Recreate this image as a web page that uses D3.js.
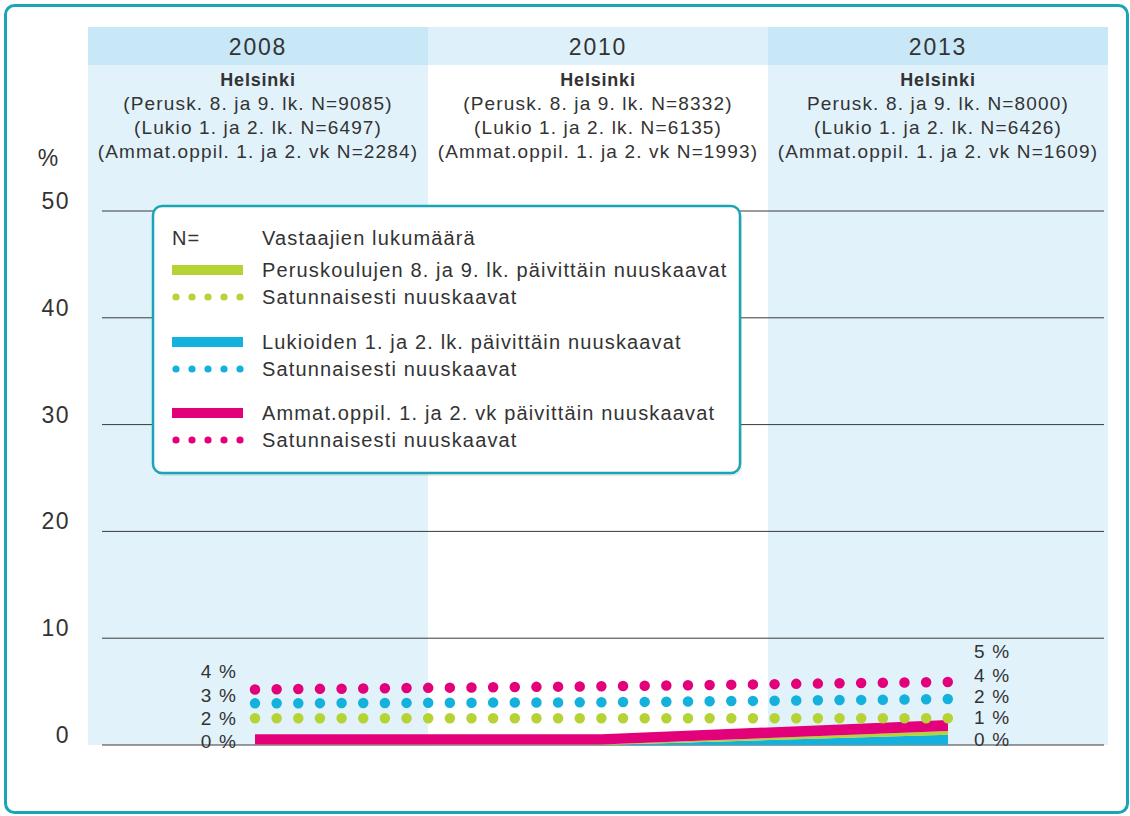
<!DOCTYPE html>
<html><head><meta charset="utf-8">
<script src="https://cdn.jsdelivr.net/npm/d3@7/dist/d3.min.js"></script>
<style>
body{margin:0;background:#fff;}
svg text{font-family:"Liberation Sans",Arial,Helvetica,sans-serif;fill:#333;}
</style></head>
<body><svg id="c" width="1130" height="816"></svg>
<script>
const years = [2008, 2010, 2013];
const headerTitle = ["Helsinki", "Helsinki", "Helsinki"];
const headerLine1 = ["(Perusk. 8. ja 9. lk. N=9085)", "(Perusk. 8. ja 9. lk. N=8332)", "Perusk. 8. ja 9. lk. N=8000)"];
const headerLine2 = ["(Lukio 1. ja 2. lk. N=6497)", "(Lukio 1. ja 2. lk. N=6135)", "(Lukio 1. ja 2. lk. N=6426)"];
const headerLine3 = ["(Ammat.oppil. 1. ja 2. vk N=2284)", "(Ammat.oppil. 1. ja 2. vk N=1993)", "(Ammat.oppil. 1. ja 2. vk N=1609)"];
const yTicks = [0, 10, 20, 30, 40, 50];

// daily users (stacked areas)
const dailyPerusk = [0.05, 0.05, 0.35];
const dailyLukio = [0.0, 0.0, 0.95];
const dailyAmmat = [0.95, 0.95, 1.05];
// occasional users (dotted lines)
const occPerusk = [2.5, 2.5, 2.5];
const occLukio = [3.9, 4.0, 4.3];
const occAmmat = [5.2, 5.5, 5.9];

const leftLabels = ["4 %", "3 %", "2 %", "0 %"];
const rightLabels = ["5 %", "4 %", "2 %", "1 %", "0 %"];

const legendNote = ["N=", "Vastaajien lukumäärä"];
const legendItems = [
  {text: "Peruskoulujen 8. ja 9. lk. päivittäin nuuskaavat", type: "bar", color: "#b5d335"},
  {text: "Satunnaisesti nuuskaavat", type: "dots", color: "#b5d335"},
  {text: "Lukioiden 1. ja 2. lk. päivittäin nuuskaavat", type: "bar", color: "#14b1dd"},
  {text: "Satunnaisesti nuuskaavat", type: "dots", color: "#14b1dd"},
  {text: "Ammat.oppil. 1. ja 2. vk päivittäin nuuskaavat", type: "bar", color: "#e3007b"},
  {text: "Satunnaisesti nuuskaavat", type: "dots", color: "#e3007b"}
];

const C = {green: "#b5d335", blue: "#14b1dd", magenta: "#e3007b"};

const svg = d3.select("#c");
// outer frame
svg.append("rect").attr("x", 5.5).attr("y", 5.5).attr("width", 1122).attr("height", 807)
  .attr("rx", 9).attr("fill", "#fff").attr("stroke", "#1aa5b7").attr("stroke-width", 3);

const col = d3.scaleBand().domain(years).range([88, 1108]);
const x = d3.scalePoint().domain(years).range([255, 948]);
const y = d3.scaleLinear().domain([0, 50]).range([745, 211]);

// column backgrounds
years.forEach((yr, i) => {
  const shaded = i !== 1;
  svg.append("rect").attr("x", col(yr)).attr("y", 65).attr("width", col.bandwidth()).attr("height", y(0) - 65)
    .attr("fill", shaded ? "#e1f2fb" : "#ffffff");
  svg.append("rect").attr("x", col(yr)).attr("y", 27).attr("width", col.bandwidth()).attr("height", 38)
    .attr("fill", shaded ? "#c8e7f7" : "#def1fb");
  const cx = col(yr) + col.bandwidth() / 2;
  svg.append("text").attr("x", cx).attr("y", 55).attr("text-anchor", "middle").attr("font-size", 23)
    .attr("letter-spacing", 1.8).text(yr);
  svg.append("text").attr("x", cx).attr("y", 86).attr("text-anchor", "middle").attr("font-size", 18)
    .attr("font-weight", "bold").attr("letter-spacing", 0.8).text(headerTitle[i]);
  [headerLine1, headerLine2, headerLine3].forEach((arr, j) => {
    svg.append("text").attr("x", cx).attr("y", 110 + j * 24).attr("text-anchor", "middle").attr("font-size", 19)
      .attr("letter-spacing", 1.15).text(arr[i]);
  });
});

// gridlines + y labels
yTicks.forEach(t => {
  svg.append("line").attr("x1", 102).attr("x2", 1104).attr("y1", y(t)).attr("y2", y(t))
    .attr("stroke", "#3a3a3a").attr("stroke-width", 1);
  svg.append("text").attr("x", 70).attr("y", y(t) - 2).attr("text-anchor", "end").attr("font-size", 23)
    .attr("letter-spacing", 1.5).text(t);
});
svg.append("text").attr("x", 48).attr("y", 166).attr("text-anchor", "middle").attr("font-size", 23).text("%");

// stacked daily areas
const rows = years.map((yr, i) => ({year: yr, lukio: dailyLukio[i], perusk: dailyPerusk[i], ammat: dailyAmmat[i]}));
const stack = d3.stack().keys(["lukio", "perusk", "ammat"])(rows);
const area = d3.area().x(d => x(d.data.year)).y0(d => y(d[0])).y1(d => y(d[1]));
const stackColors = {lukio: C.blue, perusk: C.green, ammat: C.magenta};
svg.append("g").selectAll("path").data(stack).join("path")
  .attr("d", area).attr("fill", d => stackColors[d.key]);

// dotted occasional lines
const line = d3.line().x((d, i) => x(years[i])).y(d => y(d));
[[occPerusk, C.green], [occLukio, C.blue], [occAmmat, C.magenta]].forEach(([vals, c]) => {
  svg.append("path").attr("d", line(vals)).attr("fill", "none").attr("stroke", c)
    .attr("stroke-width", 10.5).attr("stroke-linecap", "round").attr("stroke-dasharray", "0 21.65");
});

// annotation labels
const leftBase = [678, 702, 725, 748];
leftLabels.forEach((t, i) => svg.append("text").attr("x", 237).attr("y", leftBase[i]).attr("text-anchor", "end")
  .attr("font-size", 19).attr("letter-spacing", 1.2).text(t));
const rightBase = [658, 682, 703, 724, 746];
rightLabels.forEach((t, i) => svg.append("text").attr("x", 974).attr("y", rightBase[i]).attr("font-size", 19)
  .attr("letter-spacing", 1.2).text(t));

// legend
const lg = svg.append("g");
lg.append("rect").attr("x", 153).attr("y", 206).attr("width", 587).attr("height", 267).attr("rx", 9)
  .attr("fill", "#000").attr("opacity", 0.08).attr("transform", "translate(2,3)");
lg.append("rect").attr("x", 153).attr("y", 206).attr("width", 587).attr("height", 267).attr("rx", 9)
  .attr("fill", "#fff").attr("stroke", "#1aa5b7").attr("stroke-width", 2.5);
lg.append("text").attr("x", 172).attr("y", 245).attr("font-size", 20).attr("letter-spacing", 1.15).text(legendNote[0]);
lg.append("text").attr("x", 262).attr("y", 245).attr("font-size", 20).attr("letter-spacing", 1.15).text(legendNote[1]);
const itemY = [270, 297, 342, 369, 413, 440];
legendItems.forEach((it, i) => {
  const cy = itemY[i];
  if (it.type === "bar") {
    lg.append("rect").attr("x", 172).attr("y", cy - 5).attr("width", 71).attr("height", 10).attr("fill", it.color);
  } else {
    d3.range(5).forEach(k => lg.append("circle").attr("cx", 176 + k * 16).attr("cy", cy).attr("r", 3.6).attr("fill", it.color));
  }
  lg.append("text").attr("x", 262).attr("y", cy + 7).attr("font-size", 20).attr("letter-spacing", 1.15).text(it.text);
});
</script></body></html>
